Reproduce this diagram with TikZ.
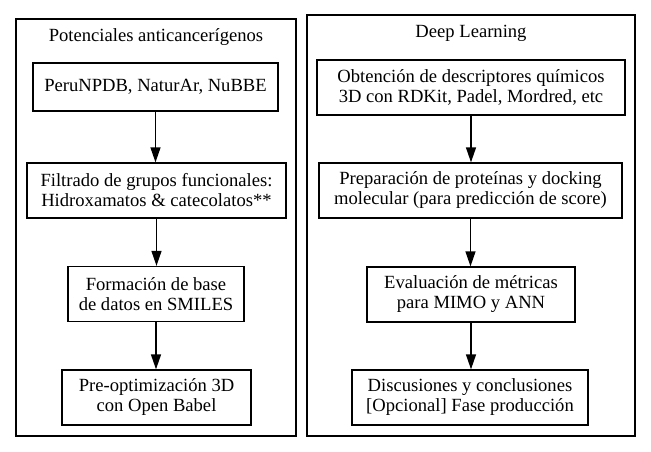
\documentclass[tikz,border=0pt]{standalone}
\usepackage{fontspec}
\setmainfont{Liberation Serif}
\usetikzlibrary{arrows.meta}
\begin{document}
\begin{tikzpicture}[x=1pt,y=-1pt,
  cluster/.style={draw=black,line width=1.2pt},
  stepbox/.style={draw=black,line width=1.3pt,align=center,inner sep=0pt,
    font=\fontsize{18.6}{20}\selectfont},
  title/.style={font=\fontsize{18.6}{20}\selectfont,inner sep=0pt,anchor=base},
  flow/.style={line width=1.3pt,-{Triangle[length=15pt,width=10pt]}}]
\useasboundingbox (0,0) rectangle (651,452);
% clusters
\draw[cluster] (16,19) rectangle (296,436);
\draw[cluster] (307,15) rectangle (635,436);
\node[title] (tl) at (156,41.7) {Potenciales anticancerígenos};
\node[title] (tr) at (471,37.7) {Deep Learning};
% left nodes
\node[stepbox,minimum width=245pt,minimum height=48pt] (n1) at (155.5,87) {PeruNPDB, NaturAr, NuBBE};
\node[stepbox,minimum width=259pt,minimum height=55pt] (n2) at (156.5,190.5) {Filtrado de grupos funcionales:\\Hidroxamatos \& catecolatos**};
\node[stepbox,minimum width=176pt,minimum height=55pt] (n3) at (156,294) {Formación de base\\de datos en SMILES};
\node[stepbox,minimum width=189pt,minimum height=55pt] (n4) at (156.5,397.5) {Pre-optimización 3D\\con Open Babel};
% right nodes
\node[stepbox,minimum width=308pt,minimum height=55pt] (r1) at (471,87.5) {Obtención de descriptores químicos\\3D con RDKit, Padel, Mordred, etc};
\node[stepbox,minimum width=303pt,minimum height=55pt] (r2) at (470.5,190.5) {Preparación de proteínas y docking\\molecular (para predicción de score)};
\node[stepbox,minimum width=208pt,minimum height=55pt] (r3) at (471,294.5) {Evaluación de métricas\\para MIMO y ANN};
\node[stepbox,minimum width=236pt,minimum height=55pt] (r4) at (470,397.5) {Discusiones y conclusiones\\{[Opcional]} Fase producción};
% arrows
\draw[flow] (n1.south) -- (n1.south |- n2.north);
\draw[flow] (n2.south) -- (n2.south |- n3.north);
\draw[flow] (n3.south) -- (n3.south |- n4.north);
\draw[flow] (r1.south) -- (r1.south |- r2.north);
\draw[flow] (r2.south) -- (r2.south |- r3.north);
\draw[flow] (r3.south) -- (r3.south |- r4.north);
\end{tikzpicture}
\end{document}
